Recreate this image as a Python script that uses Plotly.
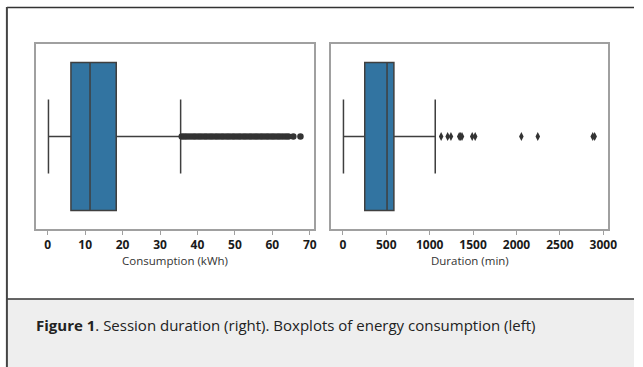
import plotly.graph_objects as go

# ---- data ----
cons_stats = {"lowerfence": 0.2, "q1": 6.2, "median": 11.3, "q3": 18.3, "upperfence": 35.5}
cons_outliers = [35.8, 36.5, 37.2, 38.0, 38.8, 39.5, 40.3, 41.0, 41.8, 42.5, 43.3, 44.0,
                 44.8, 45.5, 46.3, 47.0, 47.8, 48.5, 49.3, 50.0, 50.8, 51.5, 52.3, 53.0,
                 53.8, 54.5, 55.3, 56.0, 56.8, 57.5, 58.3, 59.0, 59.8, 60.5, 61.3, 62.0,
                 62.8, 63.6, 64.3, 65.6, 67.5]
dur_stats = {"lowerfence": 7, "q1": 252, "median": 509, "q3": 588, "upperfence": 1064}
dur_outliers = [1132, 1207, 1245, 1340, 1356, 1372, 1490, 1524, 2056, 2245, 2878, 2900]
cons_ticks = [0, 10, 20, 30, 40, 50, 60, 70]
dur_ticks = [0, 500, 1000, 1500, 2000, 2500, 3000]
cons_title = "Consumption (kWh)"
dur_title = "Duration (min)"
caption = "<b>Figure 1</b>. Session duration (right). Boxplots of energy consumption (left)"

W, H = 643, 367
BOX_FILL = "#3274a1"
LINE_C = "#3f3f3f"
FRAME_C = "#a0a0a0"
FONT = "Open Sans"

def px(x):
    return x / W

def py(y):
    return 1 - y / H

fig = go.Figure()

def add_panel(stats, outliers, xa, ya, marker_symbol, msize):
    fig.add_trace(go.Box(
        y=[0], q1=[stats["q1"]], median=[stats["median"]], q3=[stats["q3"]],
        lowerfence=[stats["lowerfence"]], upperfence=[stats["upperfence"]],
        orientation="h", width=0.8, whiskerwidth=0.5, boxpoints=False,
        fillcolor=BOX_FILL, line=dict(color=LINE_C, width=1.5),
        xaxis=xa, yaxis=ya, showlegend=False, hoverinfo="skip"))
    fig.add_trace(go.Scatter(
        x=outliers, y=[0] * len(outliers), mode="markers",
        marker=dict(symbol=marker_symbol, size=msize, color="#333333",
                    line=dict(width=0)),
        xaxis=xa, yaxis=ya, showlegend=False, hoverinfo="skip"))

add_panel(cons_stats, cons_outliers, "x", "y", "circle", 6.5)
add_panel(dur_stats, dur_outliers, "x2", "y2", "diamond-tall", 6.5)

common_x = dict(showline=True, mirror=True, linecolor=FRAME_C, linewidth=1.5,
                ticks="outside", ticklen=4, tickcolor=FRAME_C, tickwidth=1,
                showgrid=False, zeroline=False,
                tickfont=dict(family=FONT, size=12, color="#1a1a1a", weight="bold"),
                title_font=dict(family=FONT, size=11.5, color="#333333"),
                title_standoff=5)
common_y = dict(showline=True, mirror=True, linecolor=FRAME_C, linewidth=1.5,
                showticklabels=False, ticks="", showgrid=False, zeroline=False,
                range=[-0.5, 0.5])

fig.update_layout(
    width=W, height=H, margin=dict(l=0, r=0, t=0, b=0),
    paper_bgcolor="white", plot_bgcolor="white",
    xaxis=dict(domain=[px(37), px(318)], range=[-3.0, 71.0], tickvals=cons_ticks,
               title_text=cons_title, anchor="y", **common_x),
    yaxis=dict(domain=[py(229), py(44)], anchor="x", **common_y),
    xaxis2=dict(domain=[px(336), px(617)], range=[-133, 3058], tickvals=dur_ticks,
                title_text=dur_title, anchor="y2", **common_x),
    yaxis2=dict(domain=[py(229), py(44)], anchor="x2", **common_y),
)

shapes = [
    # caption band
    dict(type="rect", xref="paper", yref="paper", x0=px(7), x1=1, y0=0, y1=py(299),
         fillcolor="#eeeeee", line=dict(width=0), layer="below"),
    dict(type="line", xref="paper", yref="paper", x0=px(7), x1=1, y0=py(299), y1=py(299),
         line=dict(color="#333333", width=1.5)),
    # outer frame: top and left
    dict(type="line", xref="paper", yref="paper", x0=px(7), x1=1, y0=py(7.5), y1=py(7.5),
         line=dict(color="#333333", width=1.5)),
    dict(type="line", xref="paper", yref="paper", x0=px(7), x1=px(7), y0=0, y1=py(7),
         line=dict(color="#444444", width=2)),
]
fig.update_layout(shapes=shapes)

fig.add_annotation(xref="paper", yref="paper", x=px(34), y=py(325), xanchor="left",
                   yanchor="middle", text=caption, showarrow=False,
                   font=dict(family=FONT, size=15, color="#222222"))

fig.write_html("out.html", config={"displayModeBar": False},
               post_script="document.documentElement.style.margin='0';"
                           "document.documentElement.style.overflow='hidden';"
                           "document.body.style.margin='0';"
                           "document.body.style.overflow='hidden';")
